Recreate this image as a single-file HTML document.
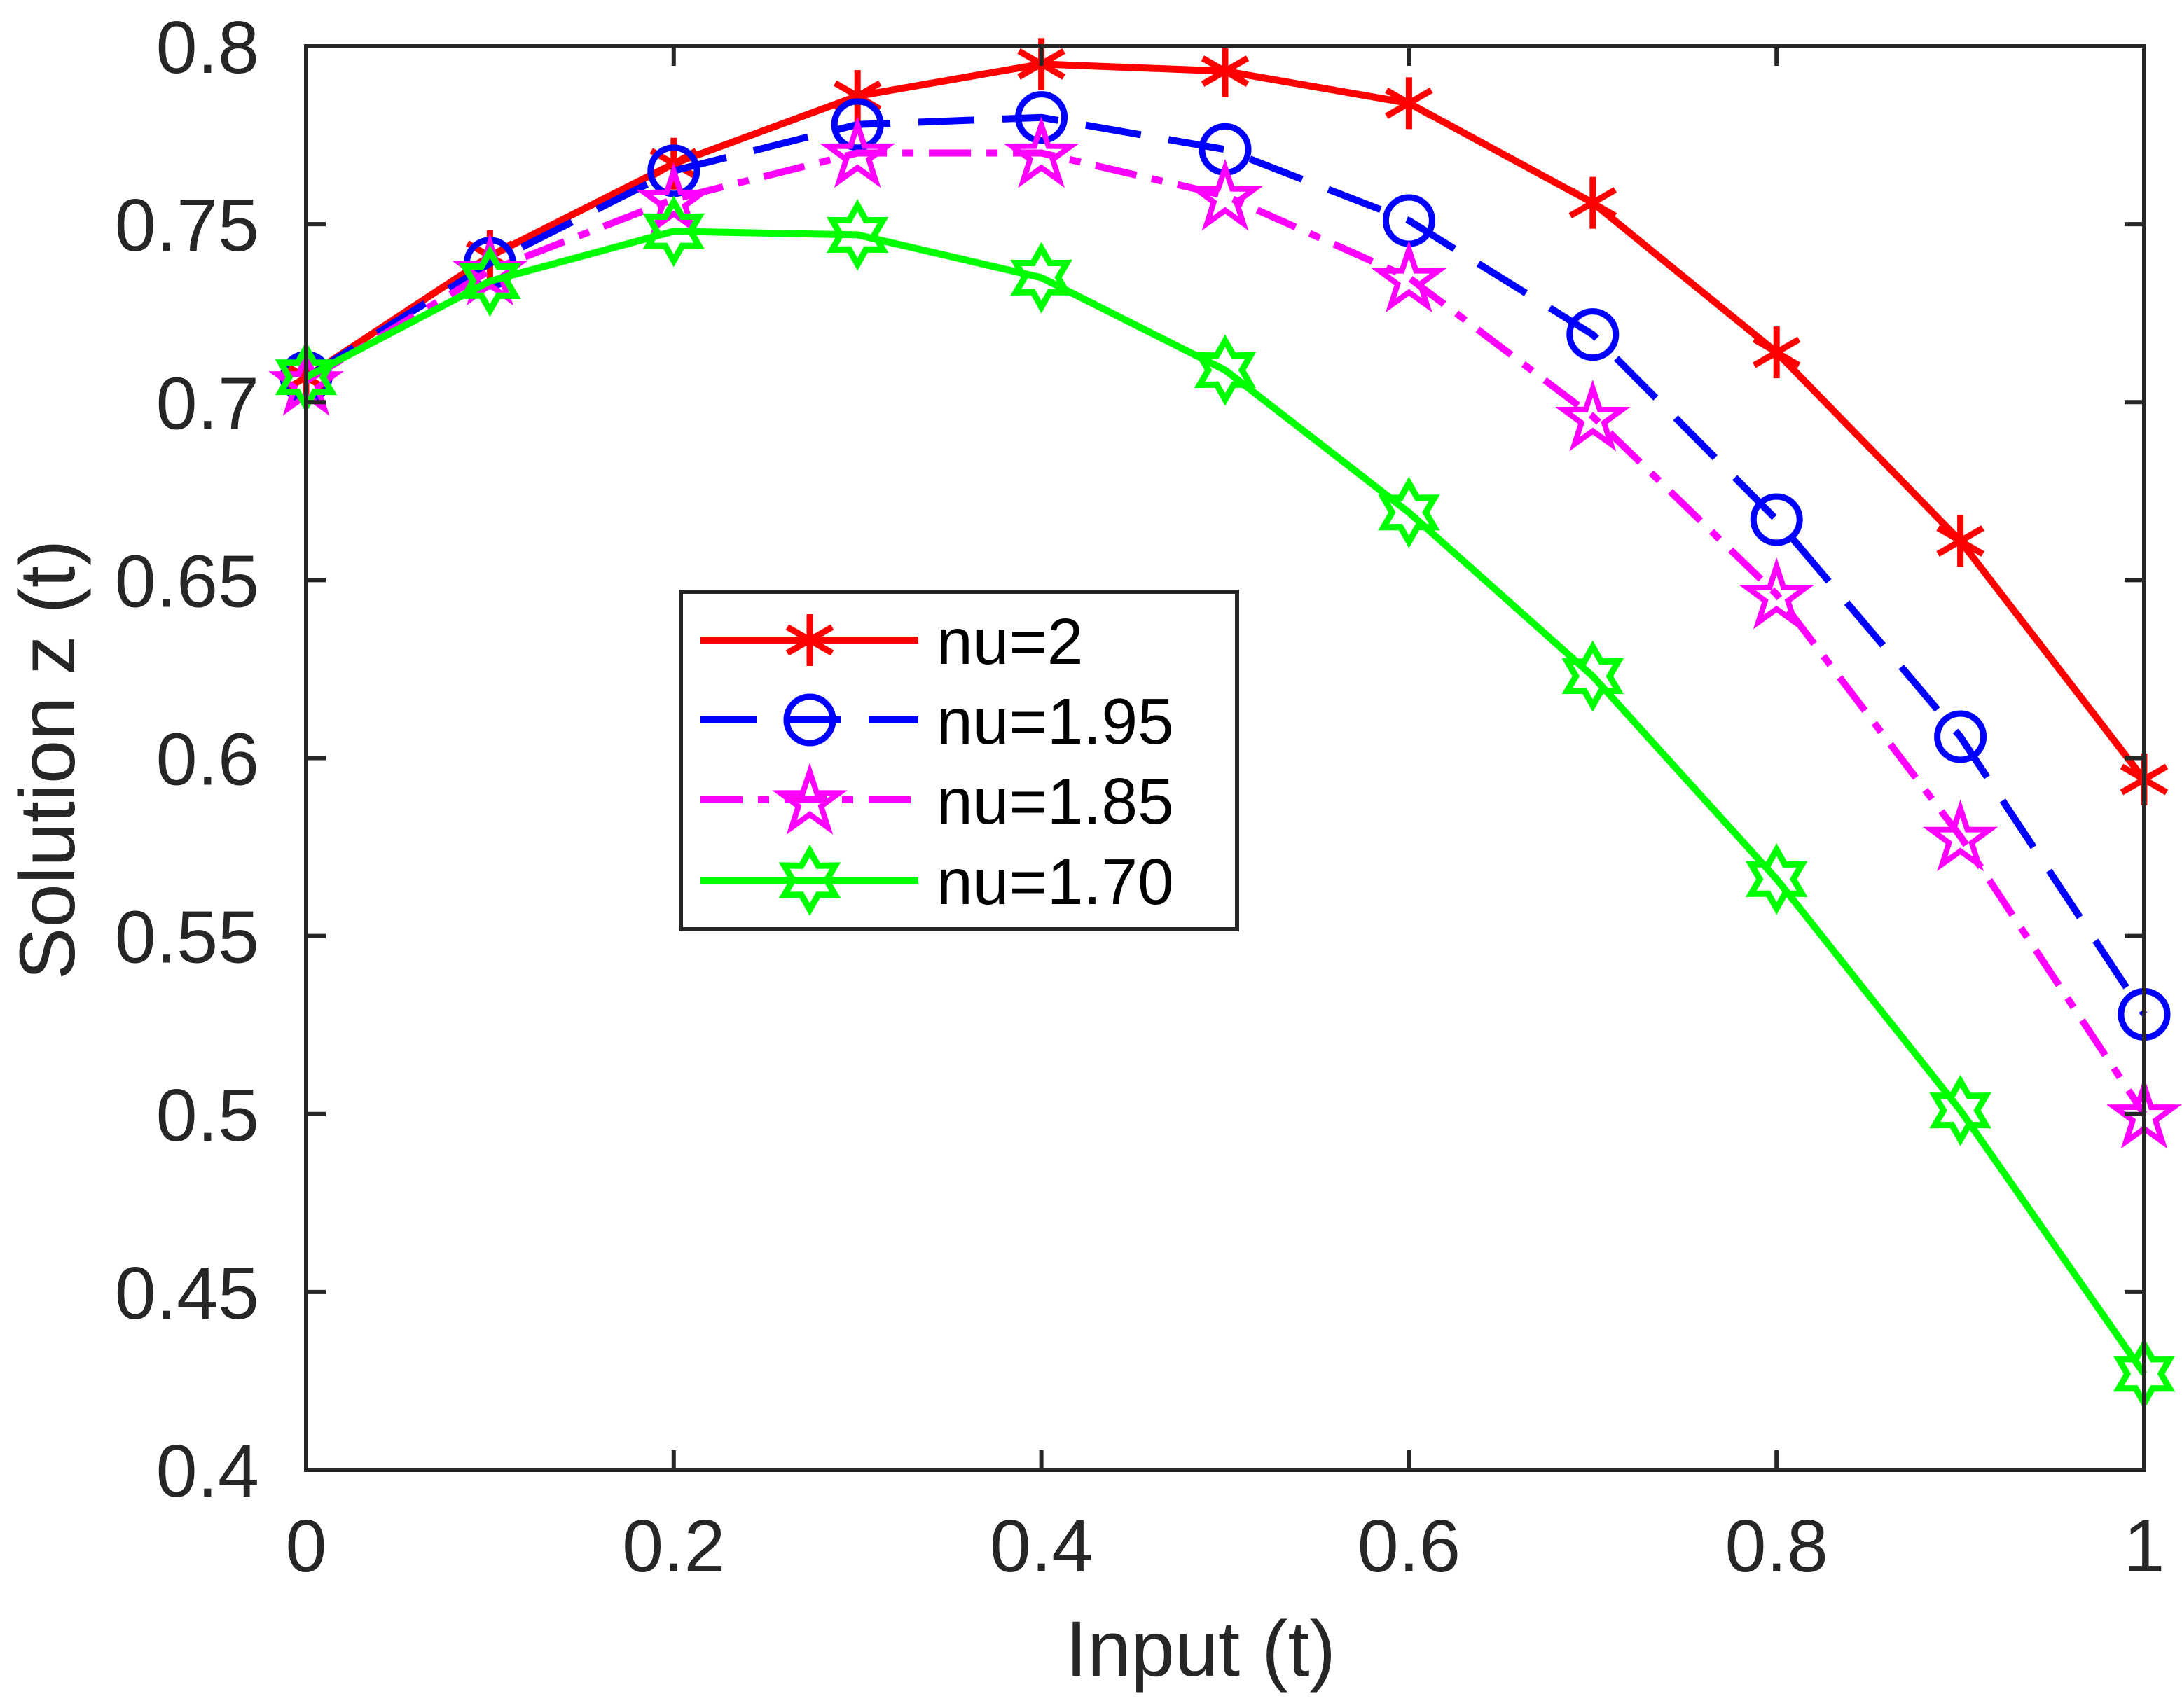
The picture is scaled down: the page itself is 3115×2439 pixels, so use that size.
<!DOCTYPE html>
<html><head><meta charset="utf-8"><style>
html,body{margin:0;padding:0;background:#fff;}
svg{display:block;}
text{font-family:"Liberation Sans",Arial,sans-serif;fill:#262626;}
</style></head><body>
<svg id="chart" width="3115" height="2439" viewBox="0 0 3115 2439" xmlns="http://www.w3.org/2000/svg">
<rect x="0" y="0" width="3115" height="2439" fill="#fff"/>
<g id="plot"></g>
<g id="axes"></g>
<g id="legend"></g>
</svg>
<script>
const xValues = [0,0.1,0.2,0.3,0.4,0.5,0.6,0.7,0.8,0.9,1.0];
const seriesNu2 = [0.707,0.741,0.767,0.786,0.795,0.793,0.784,0.756,0.714,0.661,0.594];
const seriesNu195 = [0.707,0.739,0.765,0.778,0.780,0.771,0.751,0.719,0.667,0.606,0.528];
const seriesNu185 = [0.706,0.737,0.757,0.770,0.770,0.758,0.735,0.696,0.646,0.578,0.500];
const seriesNu170 = [0.707,0.734,0.748,0.747,0.735,0.709,0.669,0.623,0.566,0.501,0.427];
const seriesLabels = ["nu=2","nu=1.95","nu=1.85","nu=1.70"];
const xTicks = [0,0.2,0.4,0.6,0.8,1];
const xTickLabels = ["0","0.2","0.4","0.6","0.8","1"];
const yTicks = [0.4,0.45,0.5,0.55,0.6,0.65,0.7,0.75,0.8];
const yTickLabels = ["0.4","0.45","0.5","0.55","0.6","0.65","0.7","0.75","0.8"];

const NS="http://www.w3.org/2000/svg";
const L=437,R=3061,T=66,B=2099;
const xMin=0,xMax=1,yMin=0.4,yMax=0.8;
function sx(v){return L+(v-xMin)/(xMax-xMin)*(R-L);}
function sy(v){return B-(v-yMin)/(yMax-yMin)*(B-T);}
function mk(tag,attrs,parent){const e=document.createElementNS(NS,tag);for(const k in attrs)e.setAttribute(k,attrs[k]);parent.appendChild(e);return e;}

const styles=[
 {color:"#ff0000",dash:"",marker:"asterisk",data:seriesNu2,name:"series-nu-2"},
 {color:"#0000ff",dash:"80 40",marker:"circle",data:seriesNu195,name:"series-nu-1-95"},
 {color:"#ff00ff",dash:"60 22 16 22",marker:"pentagram",data:seriesNu185,name:"series-nu-1-85"},
 {color:"#00ff00",dash:"",marker:"hexagram",data:seriesNu170,name:"series-nu-1-70"}
];

function starPts(cx,cy,n,ro,ri,rot){let p=[];for(let i=0;i<2*n;i++){const r=i%2?ri:ro;const a=rot+i*Math.PI/n;p.push((cx+r*Math.sin(a)).toFixed(1)+","+(cy-r*Math.cos(a)).toFixed(1));}return p.join(" ");}
function drawMarker(type,cx,cy,color,g){
 let e;
 if(type==="asterisk"){
  e=mk("g",{},g);
  [0,60,120].forEach(a=>{const r=37,rad=a*Math.PI/180;mk("line",{x1:cx-r*Math.sin(rad),y1:cy-r*Math.cos(rad),x2:cx+r*Math.sin(rad),y2:cy+r*Math.cos(rad),stroke:color,"stroke-width":9},e);});
 } else if(type==="circle"){
  e=mk("circle",{cx:cx,cy:cy,r:33,fill:"none",stroke:color,"stroke-width":9},g);
 } else if(type==="pentagram"){
  e=mk("polygon",{points:starPts(cx,cy+4,5,44,17,0),fill:"none",stroke:color,"stroke-width":8,"stroke-linejoin":"miter"},g);
 } else {
  e=mk("polygon",{points:starPts(cx,cy,6,42,24,0),fill:"none",stroke:color,"stroke-width":9},g);
 }
 return e;
}

const plot=document.getElementById('plot');
styles.forEach(s=>{
 const g=mk("g",{},plot);
 
 
 const pts=xValues.map((x,i)=>sx(x).toFixed(1)+","+sy(s.data[i]).toFixed(1)).join(" ");
 const line=mk("polyline",{points:pts,fill:"none",stroke:s.color,"stroke-width":10,"stroke-dasharray":s.dash,"stroke-linejoin":"round"},g);
 
 
 xValues.forEach((x,i)=>{
  const m=drawMarker(s.marker,sx(x),sy(s.data[i]),s.color,g);
  
  
 });
});

const axes=document.getElementById('axes');
const box=mk("rect",{x:L,y:T,width:R-L,height:B-T,fill:"none",stroke:"#262626","stroke-width":6},axes);


const tl=28;
xTicks.forEach((v,i)=>{
 const x=sx(v);
 mk("line",{x1:x,y1:B,x2:x,y2:B-tl,stroke:"#262626","stroke-width":6},axes);
 mk("line",{x1:x,y1:T,x2:x,y2:T+tl,stroke:"#262626","stroke-width":6},axes);
 const t=mk("text",{x:x,y:2244,"font-size":106,"text-anchor":"middle"},axes);
 t.textContent=xTickLabels[i];
 
 
});
yTicks.forEach((v,i)=>{
 const y=sy(v);
 mk("line",{x1:L,y1:y,x2:L+tl,y2:y,stroke:"#262626","stroke-width":6},axes);
 mk("line",{x1:R,y1:y,x2:R-tl,y2:y,stroke:"#262626","stroke-width":6},axes);
 const t=mk("text",{x:370,y:y+38,"font-size":106,"text-anchor":"end"},axes);
 t.textContent=yTickLabels[i];
 
 
});
const xt=mk("text",{x:1714,y:2393,"font-size":112,"text-anchor":"middle"},axes);
xt.textContent="Input (t)";


const yt=mk("text",{x:0,y:0,"font-size":112,"text-anchor":"middle",transform:"translate(106,1085) rotate(-90)"},axes);
yt.textContent="Solution z (t)";



const leg=document.getElementById('legend');
const lb=mk("rect",{x:972,y:845,width:794,height:482,fill:"#fff",stroke:"#262626","stroke-width":6},leg);


const rows=[914,1028,1142,1257];
styles.forEach((s,i)=>{
 const g=mk("g",{},leg);
 
 
 mk("line",{x1:1000,y1:rows[i],x2:1311,y2:rows[i],stroke:s.color,"stroke-width":10,"stroke-dasharray":s.dash},g);
 drawMarker(s.marker,1156,rows[i],s.color,g);
 const t=mk("text",{x:1337,y:rows[i]+34,"font-size":93,style:"fill:#000"},g);
 t.textContent=seriesLabels[i];
});
</script>
</body></html>
